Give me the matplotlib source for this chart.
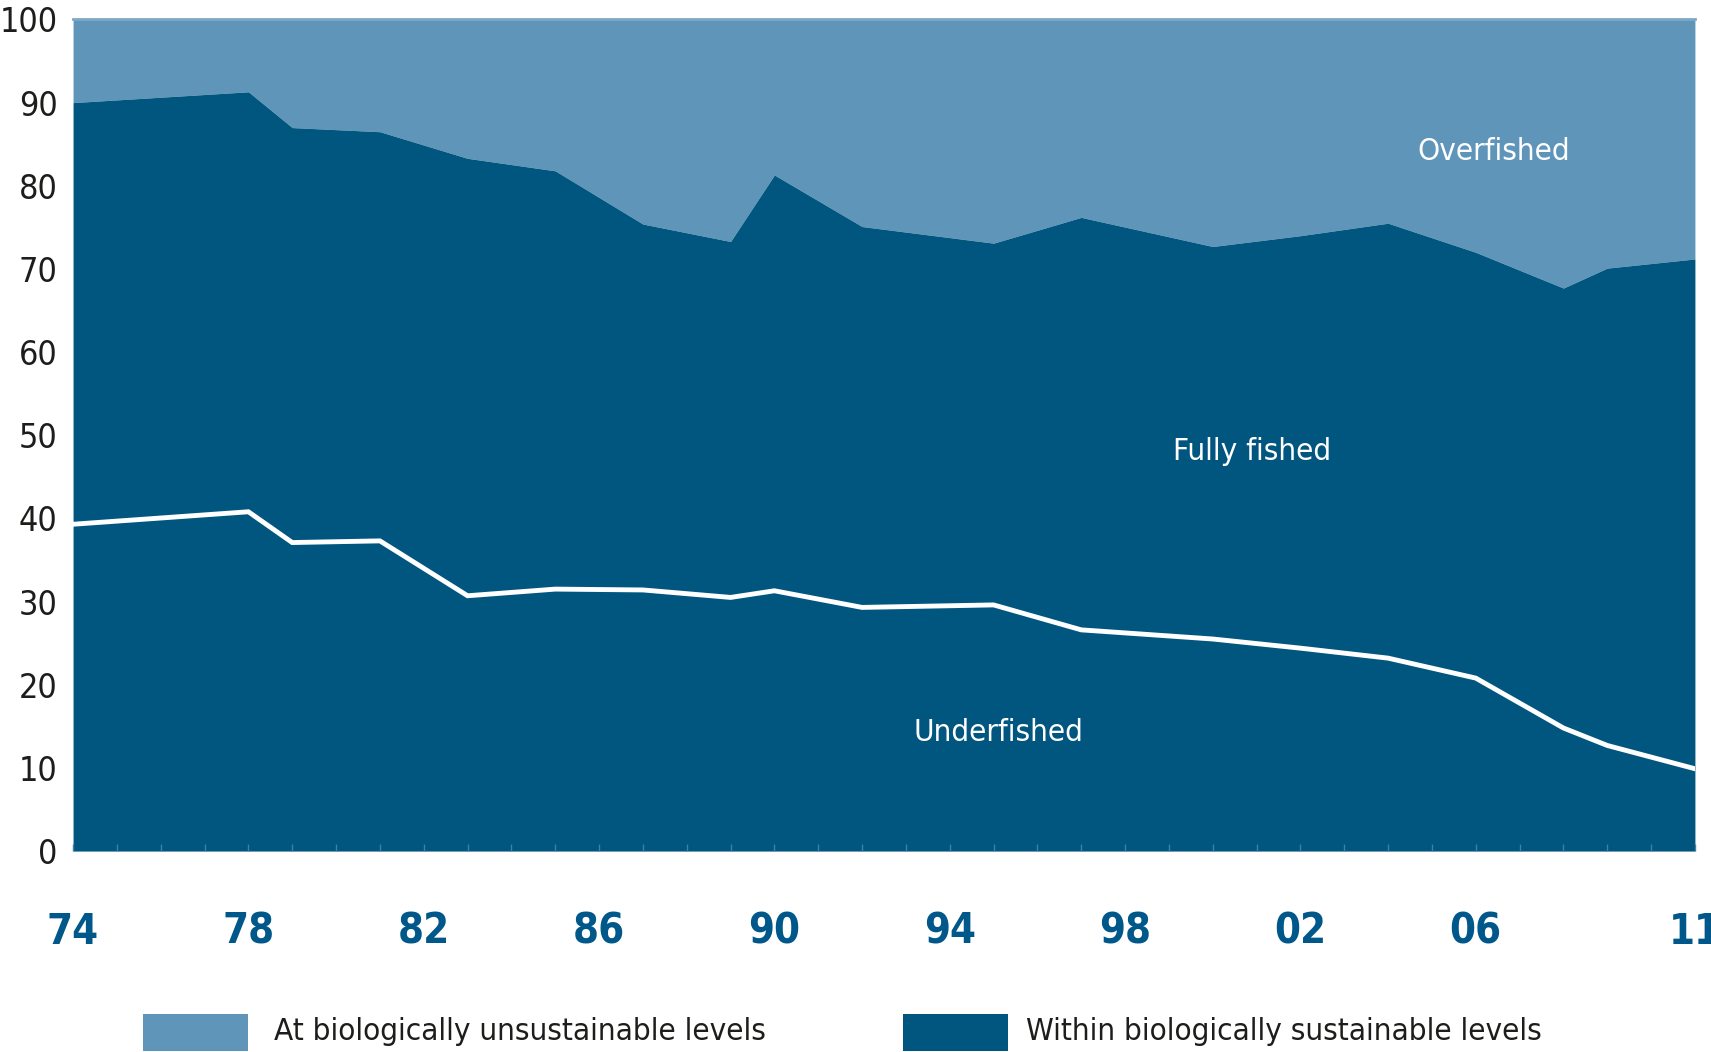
import matplotlib
matplotlib.use("Agg")
import matplotlib.pyplot as plt
import matplotlib.font_manager as fm
from matplotlib.patches import Rectangle
from matplotlib.ticker import MultipleLocator

# share of assessed stocks, percent
years = [1974, 1978, 1979, 1981, 1983, 1985, 1987, 1989, 1990, 1992,
         1995, 1997, 2000, 2002, 2004, 2006, 2008, 2009, 2011]
sustainable = [90.0, 91.3, 87.0, 86.5, 83.3, 81.8, 75.4, 73.3, 81.3, 75.1,
               73.1, 76.2, 72.7, 74.0, 75.5, 72.0, 67.7, 70.1, 71.2]
underfished = [39.3, 40.8, 37.1, 37.3, 30.7, 31.5, 31.4, 30.5, 31.3, 29.3,
               29.6, 26.6, 25.5, 24.4, 23.2, 20.8, 14.8, 12.7, 9.9]

tick_years = [1974, 1978, 1982, 1986, 1990, 1994, 1998, 2002, 2006, 2011]
tick_labels = ["74", "78", "82", "86", "90", "94", "98", "02", "06", "11"]
y_ticks = [0, 10, 20, 30, 40, 50, 60, 70, 80, 90, 100]

legend_labels = ["At biologically unsustainable levels",
                 "Within biologically sustainable levels"]

light = "#6095ba"
dark = "#015680"
tick_blue = "#00588a"
ink = "#1d1d1b"


def weight_num(w):
    if isinstance(w, str):
        return fm.weight_dict.get(w, 400)
    return w


def stretch_num(s):
    if isinstance(s, str):
        return fm.stretch_dict.get(s, 500)
    return s


def pick_font(bold):
    # look for a narrow / condensed face, the reference uses a condensed sans
    pref = ["Liberation Sans Narrow", "Noto Sans", "DejaVu Sans", "Open Sans",
            "Roboto", "Lato", "Inter"]
    best = None
    for f in fm.fontManager.ttflist:
        if f.style != "normal":
            continue
        low = (f.name + " " + f.fname).lower()
        st = stretch_num(f.stretch)
        narrow = ("narrow" in low or "condensed" in low or st < 500)
        if not narrow or "extra" in low or "ultra" in low or "semi" in low:
            continue
        w = weight_num(f.weight)
        target = 700 if bold else 400
        rank = pref.index(f.name) if f.name in pref else len(pref)
        score = (rank, abs(w - target))
        if best is None or score < best[0]:
            best = (score, f.fname)
    if best is None:
        return fm.FontProperties(family="DejaVu Sans",
                                 weight="bold" if bold else "normal")
    return fm.FontProperties(fname=best[1])


fp_reg = pick_font(False)
fp_bold = pick_font(True)

fig = plt.figure(figsize=(17.11, 10.52), dpi=100)
ax = fig.add_axes([0.0427, 0.191, 0.9479, 0.7905])

ax.fill_between(years, sustainable, 100, color=light, lw=0)
ax.fill_between(years, 0, sustainable, color=dark, lw=0)
ax.plot(years, underfished, color="white", lw=3.5, solid_joinstyle="miter")

ax.set_xlim(years[0], years[-1])
ax.set_ylim(0, 100)

ax.set_xticks(tick_years)
ax.set_xticklabels(tick_labels, fontproperties=fp_bold, fontsize=30,
                   color=tick_blue)
ax.xaxis.set_minor_locator(MultipleLocator(1))
ax.tick_params(axis="x", which="both", direction="in", length=5, width=1,
               color="#3f7ea8", pad=43)
ax.set_yticks(y_ticks)
ax.set_yticklabels([str(v) for v in y_ticks], fontproperties=fp_reg,
                   fontsize=24.5, color=ink)
ax.tick_params(axis="y", length=0, pad=11)

for s in ["left", "right", "bottom"]:
    ax.spines[s].set_visible(False)
ax.spines["top"].set_color("#7ea8c7")
ax.spines["top"].set_linewidth(2)

for x, y, lab in [(2006.4, 84.1, "Overfished"),
                  (2000.9, 48.0, "Fully fished"),
                  (1995.1, 14.3, "Underfished")]:
    ax.text(x, y, lab, fontproperties=fp_reg, fontsize=22.5, color="white",
            ha="center", va="center")

# legend drawn in figure pixels
W, H = 1711, 1052
for x0, col, lab, tx in [(143, light, legend_labels[0], 274),
                         (903, dark, legend_labels[1], 1026)]:
    fig.add_artist(Rectangle((x0 / W, 1 - 1051 / H), 105 / W, 37 / H,
                             transform=fig.transFigure, color=col, lw=0))
    fig.text(tx / W, 1 - 1032 / H, lab, fontproperties=fp_reg, fontsize=22.5,
             color=ink, ha="left", va="center")

fig.savefig("out.png", dpi=100)
